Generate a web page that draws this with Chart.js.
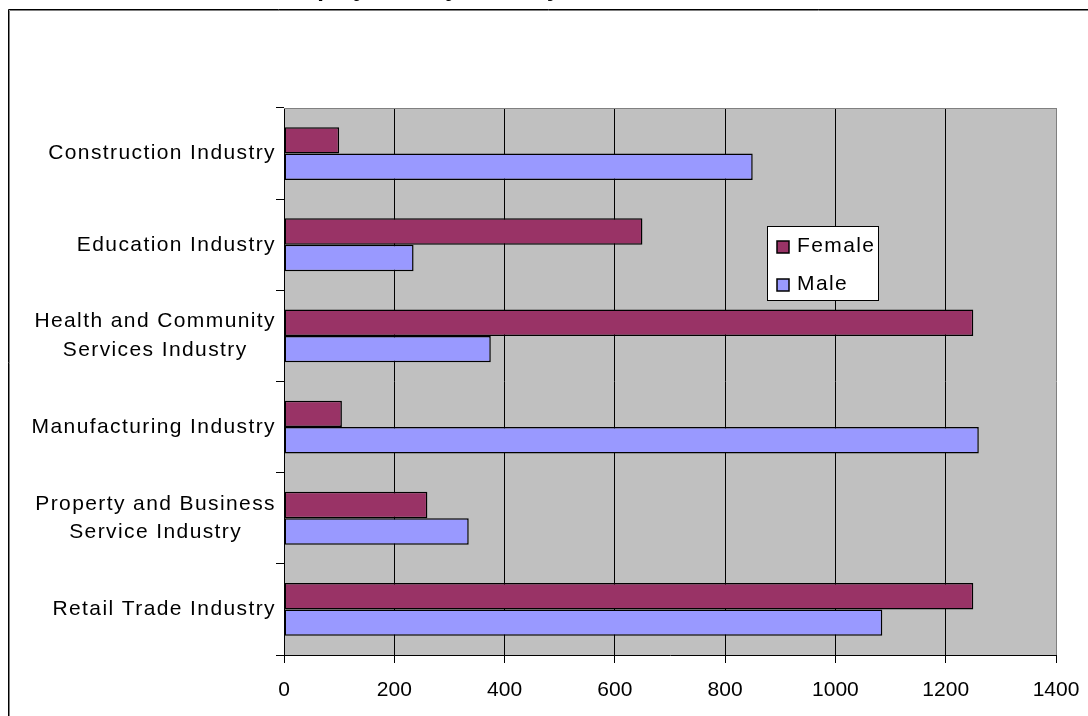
<!DOCTYPE html>
<html>
<head>
<meta charset="utf-8">
<script src="https://cdn.jsdelivr.net/npm/chart.js@4/dist/chart.umd.min.js"></script>
<style>
  html, body { margin: 0; padding: 0; background: #fff; overflow: hidden; }
  canvas { display: block; }
</style>
</head>
<body>
<canvas id="chart" width="1088" height="716"></canvas>
<script>
// Employment by industry, split by gender
const industries = [
  ['Construction Industry'],
  ['Education Industry'],
  ['Health and Community', 'Services Industry'],
  ['Manufacturing Industry'],
  ['Property and Business', 'Service Industry'],
  ['Retail Trade Industry']
];
const femaleValues = [100, 650, 1250, 105, 260, 1250];
const maleValues   = [850, 235, 375, 1260, 335, 1085];
const xMin = 0, xMax = 1400, xStep = 200;
const seriesNames = ['Female', 'Male'];
const titleText = 'Employment by Industry and Gender';

const FONT = '"Liberation Sans", Arial, sans-serif';
const FONT_SIZE = 21;
const LABEL_SPACING = '1.4px';

// Frame, title and grey plot background
const backdrop = {
  id: 'backdrop',
  beforeDraw(chart) {
    const { ctx, chartArea: a, width, height } = chart;
    ctx.save();
    ctx.fillStyle = '#fff';
    ctx.fillRect(0, 0, width, height);
    // title sits above the outer frame, almost entirely off the top edge
    ctx.fillStyle = '#000';
    ctx.font = 'bold 24px ' + FONT;
    ctx.textAlign = 'center';
    ctx.textBaseline = 'alphabetic';
    ctx.fillText(titleText, 490, -4);
    // outer frame
    ctx.lineWidth = 1;
    ctx.strokeStyle = '#000';
    ctx.beginPath();
    ctx.moveTo(8.5, height); ctx.lineTo(8.5, 9.5); ctx.lineTo(width, 9.5);
    ctx.stroke();
    ctx.strokeStyle = '#808080';
    ctx.beginPath();
    ctx.moveTo(9.5, height); ctx.lineTo(9.5, 10.5); ctx.lineTo(width, 10.5);
    ctx.stroke();
    // plot area
    ctx.fillStyle = '#C0C0C0';
    ctx.fillRect(a.left, a.top, a.right - a.left, a.bottom - a.top);
    ctx.restore();
  },
  beforeDatasetsDraw(chart) {
    const { ctx, chartArea: a } = chart;
    ctx.save();
    ctx.strokeStyle = '#808080';
    ctx.lineWidth = 1;
    ctx.beginPath();
    ctx.moveTo(a.left, a.top + 0.5); ctx.lineTo(a.right, a.top + 0.5);
    ctx.stroke();
    ctx.restore();
  }
};

// Category labels: single lines right-aligned, wrapped labels centred per line
const categoryLabels = {
  id: 'categoryLabels',
  afterDraw(chart) {
    const { ctx } = chart;
    const y = chart.scales.y;
    const rightEdge = chart.chartArea.left - 8;
    const lineHeight = 28.5;
    ctx.save();
    ctx.fillStyle = '#000';
    ctx.font = FONT_SIZE + 'px ' + FONT;
    ctx.letterSpacing = LABEL_SPACING;
    ctx.textBaseline = 'middle';
    chart.data.labels.forEach((lines, i) => {
      const cy = y.getPixelForTick(i);
      const widths = lines.map(l => ctx.measureText(l).width);
      const blockW = Math.max(...widths);
      const centre = rightEdge - blockW / 2;
      lines.forEach((line, k) => {
        const ly = cy + (k - (lines.length - 1) / 2) * lineHeight;
        if (lines.length === 1) {
          ctx.textAlign = 'right';
          ctx.fillText(line, rightEdge, ly);
        } else {
          ctx.textAlign = 'center';
          ctx.fillText(line, centre, ly);
        }
      });
    });
    ctx.restore();
  }
};

// Boxed legend inside the plot area
const boxLegend = {
  id: 'boxLegend',
  afterDraw(chart) {
    const { ctx } = chart;
    const bx = 767.5, by = 226.5, bw = 111, bh = 74;
    ctx.save();
    ctx.fillStyle = '#fff';
    ctx.fillRect(bx, by, bw, bh);
    ctx.strokeStyle = '#000';
    ctx.lineWidth = 1;
    ctx.strokeRect(bx, by, bw, bh);
    ctx.font = FONT_SIZE + 'px ' + FONT;
    ctx.letterSpacing = LABEL_SPACING;
    ctx.textBaseline = 'middle';
    ctx.textAlign = 'left';
    const rows = [247, 285];
    chart.data.datasets.forEach((ds, i) => {
      const cy = rows[i];
      ctx.fillStyle = ds.backgroundColor;
      ctx.fillRect(777, cy - 6, 12, 12);
      ctx.lineWidth = 1.5;
      ctx.strokeStyle = '#000';
      ctx.strokeRect(777, cy - 6, 12, 12);
      ctx.fillStyle = '#000';
      ctx.fillText(ds.label, 797, cy - 1);
    });
    ctx.restore();
  }
};

new Chart(document.getElementById('chart'), {
  type: 'bar',
  data: {
    labels: industries,
    datasets: [
      { label: seriesNames[0], data: femaleValues, backgroundColor: '#993366',
        borderColor: '#000', borderWidth: 1.5, borderSkipped: false },
      { label: seriesNames[1], data: maleValues, backgroundColor: '#9999FF',
        borderColor: '#000', borderWidth: 1.5, borderSkipped: false }
    ]
  },
  options: {
    indexAxis: 'y',
    responsive: false,
    animation: false,
    devicePixelRatio: 1,
    layout: { padding: { top: 108, right: 32, left: 0, bottom: 0 } },
    datasets: { bar: { categoryPercentage: 0.58, barPercentage: 1 } },
    plugins: { legend: { display: false }, tooltip: { enabled: false }, title: { display: false } },
    scales: {
      x: {
        type: 'linear',
        position: 'bottom',
        min: xMin, max: xMax,
        ticks: {
          stepSize: xStep, color: '#000', font: { family: FONT, size: FONT_SIZE },
          padding: 15, maxRotation: 0, callback: v => String(v)
        },
        grid: {
          color: c => (c.tick && c.tick.value === xMax) ? '#808080' : '#000',
          tickColor: '#000', tickLength: 8, lineWidth: 1
        },
        border: { color: '#000', width: 1 },
        afterFit(s) { s.height = 61; s.paddingLeft = 0; s.paddingRight = 0; }
      },
      y: {
        type: 'category',
        position: 'left',
        ticks: { display: false },
        grid: { drawOnChartArea: false, offset: true, tickLength: 8, color: '#000' },
        border: { color: '#000', width: 1 },
        afterFit(s) { s.width = 284; s.paddingTop = 0; s.paddingBottom = 0; }
      }
    }
  },
  plugins: [backdrop, categoryLabels, boxLegend]
});
</script>
</body>
</html>
